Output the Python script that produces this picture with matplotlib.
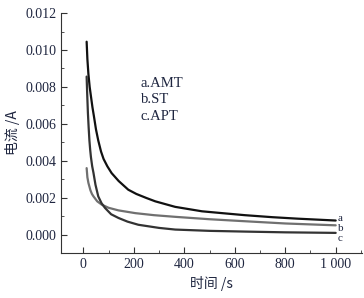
import numpy as np
import matplotlib.pyplot as plt
from matplotlib.ticker import MultipleLocator

# curve a (AMT)
t_a = [13, 16, 20, 25, 30, 36, 42, 50, 59, 70, 80, 95, 112, 140, 178, 210, 250,
       285, 364, 470, 550, 640, 750, 850, 1000]
i_a = [0.01045, 0.0095, 0.0087, 0.0080, 0.0075, 0.0069, 0.0064, 0.0057, 0.0051,
       0.0045, 0.0041, 0.0037, 0.00333, 0.0029, 0.00243, 0.0022, 0.00198,
       0.0018, 0.0015, 0.00126, 0.00116, 0.00105, 0.00094, 0.00086, 0.00076]
# curve b (ST)
t_b = [13, 16, 20, 24, 28, 34, 40, 55, 73, 100, 139, 206, 280, 364, 500, 642, 800, 1000]
i_b = [0.0036, 0.0031, 0.0028, 0.0026, 0.0024, 0.0022, 0.00207, 0.0018, 0.00162,
       0.00145, 0.00131, 0.00116, 0.00105, 0.00096, 0.00083, 0.00072, 0.0006, 0.0005]
# curve c (APT)
t_c = [13, 15, 18, 21, 24, 27, 30, 35, 40, 48, 59, 72, 86, 110, 139, 175, 218, 300,
       364, 500, 642, 800, 1000]
i_c = [0.00856, 0.0077, 0.0066, 0.0058, 0.0051, 0.0046, 0.0042, 0.0037, 0.00335,
       0.0027, 0.00207, 0.0017, 0.00144, 0.0011, 0.0009, 0.0007, 0.00053, 0.00036,
       0.00027, 0.0002, 0.00016, 0.00012, 0.00009]

txt = '#1f2640'
plt.rcParams['font.family'] = ['Liberation Serif', 'Noto Sans CJK SC']

fig = plt.figure(figsize=(3.64, 2.98), dpi=100)
ax = fig.add_axes([0.168, 0.151, 0.827, 0.805])

kw = dict(lw=1.6, solid_joinstyle='round', solid_capstyle='round')
ax.plot(t_a, i_a, color='#111111', **kw)
ax.plot(t_b, i_b, color='#707070', **kw)
ax.plot(t_c, i_c, color='#333333', **kw)

ax.set_xlim(-88, 1105)
ax.set_ylim(-0.001, 0.012)
ax.xaxis.set_major_locator(MultipleLocator(200))
ax.xaxis.set_minor_locator(MultipleLocator(100))
ax.yaxis.set_major_locator(MultipleLocator(0.002))
ax.yaxis.set_minor_locator(MultipleLocator(0.001))
ax.set_xticks([0, 200, 400, 600, 800, 1000])
ax.set_xticklabels(['0', '200', '400', '600', '800', '1 000'])
ax.set_yticklabels([f'{v:.3f}' for v in ax.get_yticks()])
ax.tick_params(direction='in', which='both', labelsize=10, colors='#333333', labelcolor=txt)
ax.tick_params(which='major', length=4)
ax.tick_params(which='minor', length=2)
for s in ['top', 'right']:
    ax.spines[s].set_visible(False)
for s in ['left', 'bottom']:
    ax.spines[s].set_color('#333333')

ax.text(228, 0.0082, 'a.AMT', color=txt, fontsize=10.5, va='center')
ax.text(228, 0.0073, 'b.ST', color=txt, fontsize=10.5, va='center')
ax.text(228, 0.0064, 'c.APT', color=txt, fontsize=10.5, va='center')
ax.text(1008, 0.00088, 'a', color=txt, fontsize=8, va='center')
ax.text(1008, 0.00032, 'b', color=txt, fontsize=8, va='center')
ax.text(1008, -0.00022, 'c', color=txt, fontsize=8, va='center')

ax.set_ylabel('电流 /A', color=txt, fontsize=10, family=['Noto Sans CJK SC', 'Liberation Serif'])
ax.set_xlabel('时间 /s', color=txt, fontsize=10, family=['Noto Sans CJK SC', 'Liberation Serif'])

fig.savefig('out.png', dpi=100)
